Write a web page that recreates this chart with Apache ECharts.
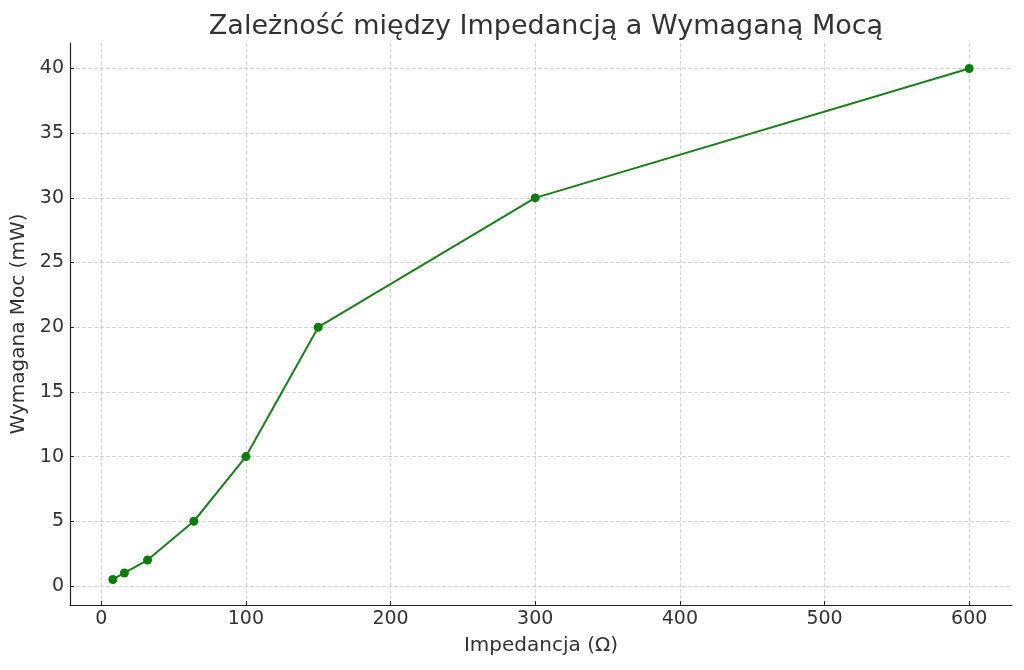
<!DOCTYPE html>
<html>
<head>
<meta charset="utf-8">
<script src="https://cdn.jsdelivr.net/npm/echarts@6/dist/echarts.min.js"></script>
<style>html,body{margin:0;padding:0;background:#fff;}#c{width:1024px;height:670px;}</style>
</head>
<body>
<div id="c"></div>
<script>
const impedance = [8, 16, 32, 64, 100, 150, 300, 600];
const power = [0.5, 1, 2, 5, 10, 20, 30, 40];
const xTicks = [0, 100, 200, 300, 400, 500, 600];
const yTicks = [0, 5, 10, 15, 20, 25, 30, 35, 40];
const titleText = 'Zależność między Impedancją a Wymaganą Mocą';
const xName = 'Impedancja (Ω)';
const yName = 'Wymagana Moc (mW)';

const font = 'DejaVu Sans';
const chart = echarts.init(document.getElementById('c'), null, {renderer: 'canvas'});
const gridLine = {show: true, lineStyle: {color: '#c8c8c8', width: 0.8, type: [4, 2]}};
chart.setOption({
  animation: false,
  backgroundColor: '#fff',
  title: {
    text: titleText, left: 541, top: 8, textAlign: 'center',
    textStyle: {fontFamily: font, fontSize: 27, fontWeight: 'normal', color: '#333'}
  },
  grid: {left: 70, right: 12, top: 43, bottom: 65},
  xAxis: {
    type: 'value', min: -21.6, max: 629.6,
    name: xName, nameLocation: 'middle', nameGap: 31,
    nameTextStyle: {fontFamily: font, fontSize: 20, color: '#333'},
    axisLine: {show: true, onZero: false, lineStyle: {color: '#222', width: 1.2}},
    axisTick: {show: true, inside: true, length: 4, customValues: xTicks, lineStyle: {color: '#222'}},
    axisLabel: {customValues: xTicks, fontFamily: font, fontSize: 19, color: '#333', margin: 5},
    splitLine: gridLine
  },
  yAxis: {
    type: 'value', min: -1.475, max: 41.975,
    name: yName, nameLocation: 'middle', nameGap: 40,
    nameTextStyle: {fontFamily: font, fontSize: 20, color: '#333'},
    axisLine: {show: true, onZero: false, lineStyle: {color: '#222', width: 1.2}},
    axisTick: {show: true, inside: true, length: 4, customValues: yTicks, lineStyle: {color: '#222'}},
    axisLabel: {customValues: yTicks, fontFamily: font, fontSize: 19, color: '#333', margin: 6},
    splitLine: gridLine
  },
  series: [{
    type: 'line',
    data: impedance.map((x, i) => [x, power[i]]),
    symbol: 'circle', symbolSize: 9,
    itemStyle: {color: '#0a7d0a'},
    lineStyle: {color: '#1a7f1a', width: 2}
  }]
});
</script>
</body>
</html>
